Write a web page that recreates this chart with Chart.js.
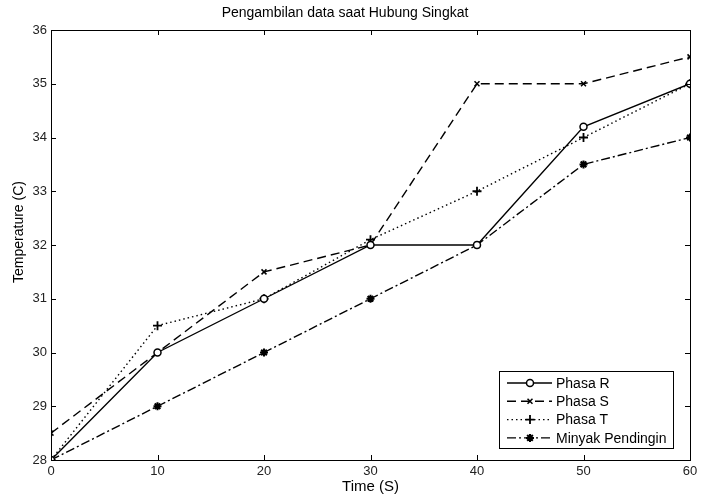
<!DOCTYPE html>
<html><head><meta charset="utf-8">
<script src="https://cdn.jsdelivr.net/npm/chart.js@4/dist/chart.umd.min.js"></script>
<style>html,body{margin:0;padding:0;background:#fff}#wrap{width:706px;height:499px}</style>
</head><body><div id="wrap"><canvas id="c" width="706" height="499"></canvas></div>
<script>
const times = [0, 10, 20, 30, 40, 50, 60];
const phasaR = [28, 30, 31, 32, 32, 34.2, 35];
const phasaS = [28.5, 30, 31.5, 32, 35, 35, 35.5];
const phasaT = [28, 30.5, 31, 32.1, 33, 34, 35];
const minyak = [28, 29, 30, 31, 32, 33.5, 34];
const seriesNames = ['Phasa R', 'Phasa S', 'Phasa T', 'Minyak Pendingin'];
const xTicks = [0, 10, 20, 30, 40, 50, 60];
const yTicks = [28, 29, 30, 31, 32, 33, 34, 35, 36];
const yTitle = 'Temperature (C)';

const FONT = "'Liberation Sans', Arial, sans-serif";
const pts = arr => times.map((t, i) => ({x: t, y: arr[i]}));

const styles = [
  {dash: [], point: 'circle', r: 3.5, fill: '#fff', bw: 1.5},
  {dash: [9, 5], point: 'crossRot', r: 3.5, fill: '#000', bw: 1.5},
  {dash: [1.5, 3], point: 'cross', r: 4.5, fill: '#000', bw: 1.8},
  {dash: [9, 3, 2, 3], point: 'star', r: 4, fill: '#000', bw: 2}
];
const dataArrs = [phasaR, phasaS, phasaT, minyak];

const datasets = dataArrs.map((a, i) => ({
  label: seriesNames[i],
  data: pts(a),
  borderColor: '#000',
  borderWidth: 1.4,
  borderDash: styles[i].dash,
  pointStyle: styles[i].point,
  pointRadius: styles[i].r,
  pointBackgroundColor: styles[i].fill,
  pointBorderColor: '#000',
  pointBorderWidth: styles[i].bw,
  tension: 0,
  fill: false
}));

const framePlugin = {
  id: 'frame',
  afterDatasetsDraw(chart) {
    const {ctx, chartArea: a, scales} = chart;
    ctx.save();
    ctx.strokeStyle = '#000';
    ctx.lineWidth = 1;
    ctx.setLineDash([]);
    ctx.strokeRect(a.left + 0.5, a.top + 0.5, a.right - a.left, a.bottom - a.top);
    const L = 5;
    ctx.beginPath();
    xTicks.forEach(v => {
      const x = Math.round(scales.x.getPixelForValue(v)) + 0.5;
      ctx.moveTo(x, a.bottom); ctx.lineTo(x, a.bottom - L);
      ctx.moveTo(x, a.top); ctx.lineTo(x, a.top + L);
    });
    yTicks.forEach(v => {
      const y = Math.round(scales.y.getPixelForValue(v)) + 0.5;
      ctx.moveTo(a.left, y); ctx.lineTo(a.left + L, y);
      ctx.moveTo(a.right, y); ctx.lineTo(a.right - L, y);
    });
    ctx.stroke();

    // y axis title
    ctx.save();
    ctx.fillStyle = '#000';
    ctx.font = '14px ' + FONT;
    ctx.textAlign = 'center';
    ctx.textBaseline = 'middle';
    ctx.translate(19, (a.top + a.bottom) / 2 - 13);
    ctx.rotate(-Math.PI / 2);
    ctx.fillText(yTitle, 0, 0);
    ctx.restore();

    // legend box
    const bx = 499, by = 371, bw = 174, bh = 77;
    ctx.fillStyle = '#fff';
    ctx.fillRect(bx, by, bw, bh);
    ctx.strokeRect(bx + 0.5, by + 0.5, bw, bh);
    ctx.font = '14px ' + FONT;
    ctx.textBaseline = 'middle';
    ctx.textAlign = 'left';
    chart.data.datasets.forEach((ds, i) => {
      const y = by + 12 + i * 18.3;
      ctx.save();
      ctx.strokeStyle = '#000';
      ctx.lineWidth = 1.4;
      ctx.setLineDash(ds.borderDash);
      ctx.beginPath();
      ctx.moveTo(507, y); ctx.lineTo(552, y);
      ctx.stroke();
      ctx.setLineDash([]);
      ctx.lineWidth = ds.pointBorderWidth;
      ctx.fillStyle = ds.pointBackgroundColor;
      Chart.helpers.drawPoint(ctx, {pointStyle: ds.pointStyle, radius: ds.pointRadius, borderWidth: ds.pointBorderWidth, rotation: 0}, 530, y);
      ctx.restore();
      ctx.fillStyle = '#000';
      ctx.fillText(ds.label, 556, y + 1);
    });
    ctx.restore();
  }
};

new Chart(document.getElementById('c'), {
  type: 'line',
  data: {datasets},
  options: {
    responsive: false,
    animation: false,
    layout: {padding: {left: 0, right: 16, top: 0, bottom: 0}},
    plugins: {
      legend: {display: false},
      tooltip: {enabled: false},
      title: {
        display: true,
        text: 'Pengambilan data saat Hubung Singkat',
        color: '#000',
        font: {family: FONT, size: 14, weight: 'normal'},
        padding: {top: 4.5, bottom: 8.7}
      }
    },
    scales: {
      x: {
        type: 'linear', min: 0, max: 60,
        afterBuildTicks: s => { s.ticks = xTicks.map(v => ({value: v})); },
        afterFit: s => { s.height = 39; },
        grid: {display: false, drawTicks: false},
        border: {display: false},
        ticks: {color: '#222', font: {family: FONT, size: 13}, padding: 4},
        title: {display: true, text: 'Time (S)', color: '#000', font: {family: FONT, size: 15}, padding: {top: 0, bottom: 3.5}}
      },
      y: {
        type: 'linear', min: 28, max: 36,
        afterBuildTicks: s => { s.ticks = yTicks.map(v => ({value: v})); },
        afterFit: s => { s.width = 51; },
        grid: {display: false, drawTicks: false},
        border: {display: false},
        ticks: {color: '#222', font: {family: FONT, size: 13}, padding: 4},
        title: {display: false}
      }
    }
  },
  plugins: [framePlugin]
});
</script>
</body></html>
